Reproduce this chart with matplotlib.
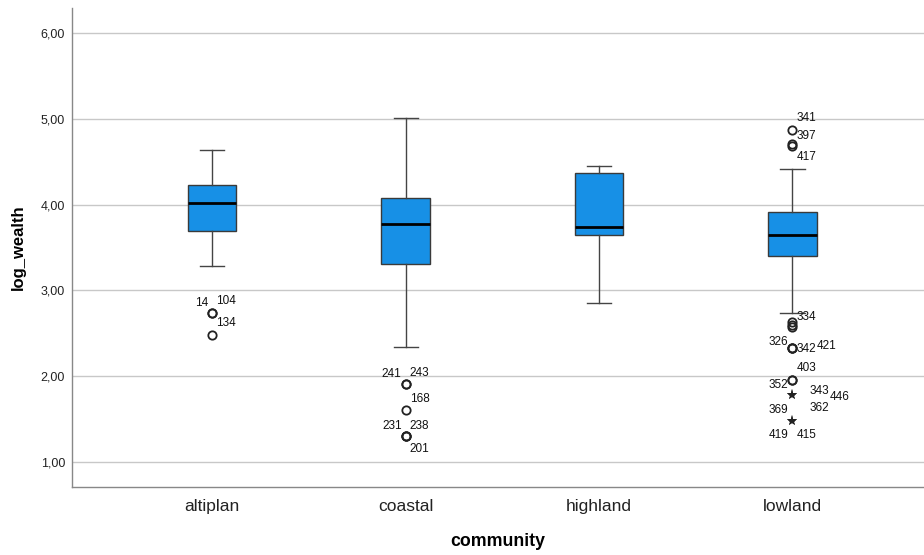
import matplotlib
matplotlib.use("Agg")
import matplotlib.pyplot as plt
from matplotlib.ticker import FuncFormatter

# ---- data ----
communities = ["altiplan", "coastal", "highland", "lowland"]
whisker_low = [3.28, 2.34, 2.85, 2.74]
q1 = [3.69, 3.31, 3.65, 3.40]
median = [4.02, 3.77, 3.74, 3.65]
q3 = [4.23, 4.08, 4.37, 3.91]
whisker_high = [4.63, 5.01, 4.45, 4.41]

# outliers: group index, value, case label, kind ('o' = outlier, '*' = extreme)
out_group = [0, 0, 0,
             1, 1, 1, 1, 1, 1,
             3, 3, 3,
             3, 3, 3, 3, 3, 3, 3, 3, 3, 3, 3, 3]
out_value = [2.74, 2.74, 2.48,
             1.91, 1.91, 1.61, 1.30, 1.30, 1.30,
             4.87, 4.71, 4.68,
             2.63, 2.60, 2.57, 2.33, 2.33, 2.33, 1.96, 1.96, 1.78, 1.78, 1.48, 1.48]
out_label = ["14", "104", "134",
             "241", "243", "168", "231", "238", "201",
             "341", "397", "417",
             "334", "", "", "326", "342", "421", "403", "352", "343", "446", "369", "362"]
out_kind = ["o", "o", "o",
            "o", "o", "o", "o", "o", "o",
            "o", "o", "o",
            "o", "o", "o", "o", "o", "o", "o", "o", "*", "*", "*", "*"]
extra_labels = [(3, 1.48, "419"), (3, 1.48, "415")]

y_ticks = [1, 2, 3, 4, 5, 6]

# ---- drawing ----
plt.rcParams["font.family"] = ["Liberation Sans", "DejaVu Sans"]
fig = plt.figure(figsize=(9.24, 5.55), dpi=100)
ax = fig.add_axes([72 / 924, (555 - 487) / 555, 1 - 72 / 924, (487 - 8) / 555])

stats = []
for i in range(len(communities)):
    stats.append(dict(whislo=whisker_low[i], q1=q1[i], med=median[i],
                      q3=q3[i], whishi=whisker_high[i], fliers=[]))

pos = list(range(len(communities)))
ax.bxp(stats, positions=pos, widths=0.25, patch_artist=True, showfliers=False,
       boxprops=dict(facecolor="#1790e6", edgecolor="#3a3a3a", linewidth=1.0),
       medianprops=dict(color="black", linewidth=2.0),
       whiskerprops=dict(color="#444444", linewidth=1.0),
       capprops=dict(color="#444444", linewidth=1.0),
       capwidths=0.125, zorder=3)

# label offsets (pixels: dx, dy with dy upward), horizontal alignment
label_style = {
    "14": (-4, 10, "right"), "104": (4, 12, "left"), "134": (4, 12, "left"),
    "241": (-4, 10, "right"), "243": (4, 11, "left"), "168": (4, 11, "left"),
    "231": (-4, 10, "right"), "238": (4, 10, "left"), "201": (4, -13, "left"),
    "341": (4, 12, "left"), "397": (4, 8, "left"), "417": (4, -11, "left"),
    "334": (4, 5, "left"), "326": (-4, 6, "right"), "342": (4, -1, "left"),
    "421": (24, 2, "left"), "403": (4, 12, "left"), "352": (-4, -5, "right"),
    "343": (17, 4, "left"), "446": (37, -2, "left"), "369": (-4, 11, "right"),
    "362": (17, 13, "left"), "419": (-4, -14, "right"), "415": (4, -14, "left"),
}

for g, v, lab, k in zip(out_group, out_value, out_label, out_kind):
    if k == "o":
        ax.plot(g, v, marker="o", markersize=6, markerfacecolor="none",
                markeredgecolor="#222222", markeredgewidth=1.3, zorder=4)
    else:
        ax.plot(g, v, marker="*", markersize=8, color="#222222", zorder=4,
                markeredgewidth=0)
    if lab:
        dx, dy, ha = label_style[lab]
        ax.annotate(lab, (g, v), xytext=(dx * 0.72, dy * 0.72), textcoords="offset points",
                    ha=ha, va="center", fontsize=8.5, color="#111111")

for g, v, lab in extra_labels:
    dx, dy, ha = label_style[lab]
    ax.annotate(lab, (g, v), xytext=(dx * 0.72, dy * 0.72), textcoords="offset points",
                ha=ha, va="center", fontsize=8.5, color="#111111")

ax.set_xlim(-0.725, 3.68)
ax.set_ylim(0.71, 6.29)
ax.set_yticks(y_ticks)
ax.yaxis.set_major_formatter(FuncFormatter(lambda v, p: f"{v:.2f}".replace(".", ",")))
ax.set_xticks(pos)
ax.set_xticklabels(communities, fontsize=12.5)
ax.tick_params(axis="y", length=0, pad=5, labelsize=9, labelcolor="#222222")
ax.tick_params(axis="x", length=0, pad=8.5, labelcolor="#222222")
ax.grid(axis="y", color="#c8c8c8", linewidth=1.0, zorder=0)
ax.set_axisbelow(True)

for s in ["top", "right"]:
    ax.spines[s].set_visible(False)
for s in ["left", "bottom"]:
    ax.spines[s].set_color("#888888")
    ax.spines[s].set_linewidth(1.0)

ax.set_xlabel("community", fontsize=12.8, fontweight="bold", labelpad=14)
ax.set_ylabel("log_wealth", fontsize=12, fontweight="bold", labelpad=11)

fig.savefig("out.png", dpi=100)
